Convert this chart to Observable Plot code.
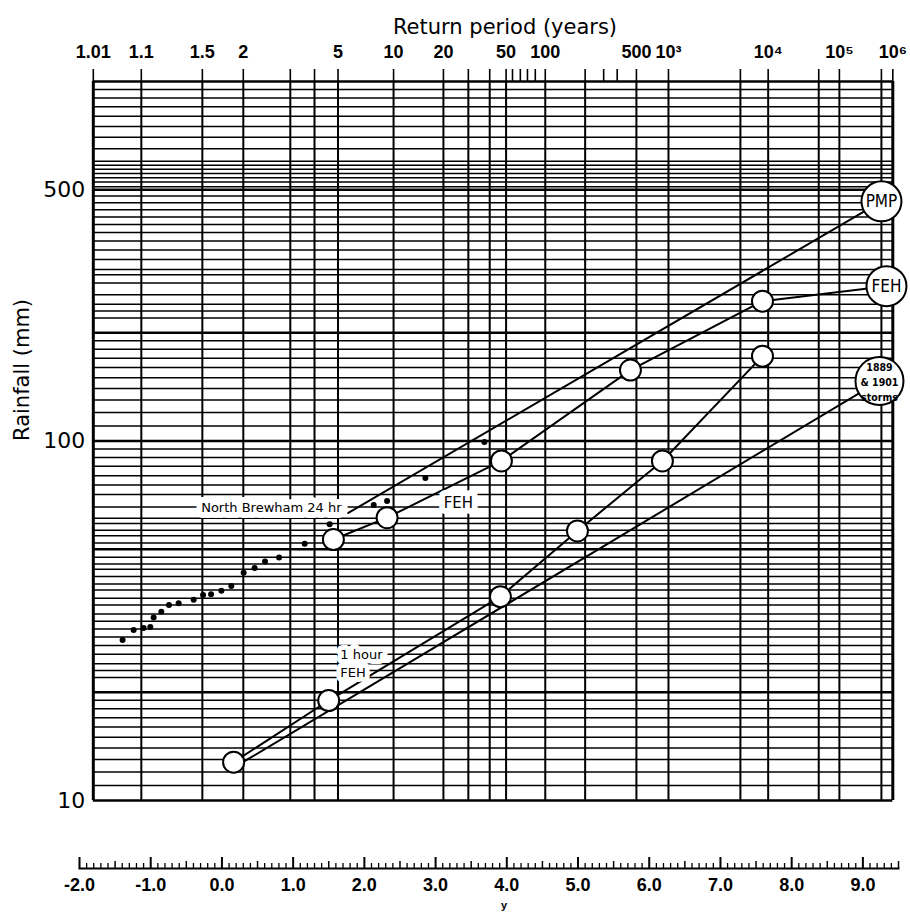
<!DOCTYPE html>
<html><head><meta charset="utf-8">
<script src="https://cdn.jsdelivr.net/npm/d3@7"></script>
<script src="https://cdn.jsdelivr.net/npm/@observablehq/plot@0.6"></script>
<style>
body{margin:0;background:#fff;}
</style>
</head><body><div id="chart"></div>
<script>
// ---- Top axis: return periods and where they sit on the reduced-variate scale
const returnPeriods      = [1.01, 1.1, 1.5, 2, 3, 4, 5, 10, 20, 30, 40, 50, 60, 70, 80, 90, 100, 200, 300, 400, 500, 1e3, 5e3, 1e4, 5e4, 1e5, 5e5, 1e6];
const returnPeriodPos    = [-1.806, -1.132, -0.275, 0.30, 0.96, 1.30, 1.63, 2.41, 3.11, 3.46, 3.76, 3.99, 4.08, 4.19, 4.29, 4.40, 4.54, 5.10, 5.36, 5.55, 5.82, 6.27, 7.28, 7.67, 8.38, 8.67, 9.26, 9.42];
const returnPeriodLabels = ["1.01","1.1","1.5","2","","","5","10","20","","","50","","","","","100","","","","500","10³","","10⁴","","10⁵","","10⁶"];
const shortTickPeriods   = [60, 70, 80, 90, 300, 400];

// ---- Rainfall (mm) graph-paper lines, log scale
const rainfallGrid = [10,11,12,13,14,15,16,17,18,19,20,22,23,24,25.5,27,28.5,30,31.5,33,35,36.5,38.5,40,42,44,45.5,47.5,50,52,54.5,56.5,59,61,65.5,71,75.5,80,85,90,95,
  100,110,120,130,140,150,160,170,180,190,200,220,230,240,255,275,290,300,320,340,360,380,400,420,440,460,480,500,510,525,540,555,570,585,600,650,700,750,800,850,900,950,1000];
const rainfallBold = [10, 20, 50, 100, 200, 500, 1000];
const rainfallTickLabels = [10, 100, 500];

// ---- Bottom ruler: reduced variate y
const rulerLabels = [-2, -1, 0, 1, 2, 3, 4, 5, 6, 7, 8, 9];

// ---- Series (x = reduced variate, rain = mm)
const fehX      = [1.565, 2.319, 3.924, 5.736, 7.590];
const fehRain   = [53.2, 61.2, 88.0, 157.5, 244.9];
const hourX     = [0.164, 1.499, 3.910, 4.992, 6.185, 7.590];
const hourRain  = [12.78, 18.97, 36.9, 56.2, 88.0, 172.2];
const brewX     = [-1.395,-1.240,-1.100,-1.006,-0.959,-0.851,-0.743,-0.608,-0.397,-0.265,-0.153,-0.008,0.132,0.305,0.459,0.605,0.802,1.162,1.513,2.131,2.319,2.857,3.685];
const brewRain  = [27.95,29.8,30.2,30.4,32.3,33.5,35.0,35.4,36.2,37.3,37.5,38.3,39.5,43.0,44.3,46.2,47.4,51.8,58.7,66.4,68.1,78.9,99.4];
const pmpX      = [1.775, 9.261];
const pmpRain   = [63.1, 464.2];
const stormX    = [0.30, 9.233];
const stormRain = [12.8, 146.8];

// ---- End-of-line bubble labels
const bubbleNames = ["PMP", "FEH", "1889\n& 1901\nstorms"];
const bubbleX     = [9.261, 9.331, 9.233];
const bubbleRain  = [464.2, 269.6, 146.8];

// ---- In-plot annotations
const noteText = ["North Brewham 24 hr", "FEH"];
const noteX    = [0.694, 3.320];
const noteRain = [65.2, 67.3];
const hourNote = {text: "1 hour\nFEH", x: 1.663, rain: 24.2};

// ---------- build
const pts = (xs, ys) => xs.map((x, i) => ({x, y: ys[i]}));
const feh = pts(fehX, fehRain);
const hour = pts(hourX, hourRain);
const brew = pts(brewX, brewRain);
const pmp = pts(pmpX, pmpRain);
const storm = pts(stormX, stormRain);
const fehLine = [...feh, {x: bubbleX[1], y: bubbleRain[1]}];
const bubbles = bubbleNames.map((t, i) => ({t, x: bubbleX[i], y: bubbleRain[i]}));
const notes = noteText.map((t, i) => ({t, x: noteX[i], y: noteRain[i]}));

const frameLeft = returnPeriodPos[0];
const frameRight = returnPeriodPos[returnPeriodPos.length - 1];
const rainMin = rainfallGrid[0], rainMax = rainfallGrid[rainfallGrid.length - 1];
const gridPos = returnPeriodPos.filter((p, i) => !shortTickPeriods.includes(returnPeriods[i]) && i > 0 && i < returnPeriodPos.length - 1);
const topLabelMap = new Map(returnPeriodPos.map((p, i) => [p, returnPeriodLabels[i]]));
const boldSet = new Set(rainfallBold);

const minorTicks = d3.range(-20, 96).map(i => i / 10).filter(v => Math.abs(v * 2 - Math.round(v * 2)) > 1e-6);
const halfTicks = d3.range(-4, 20).map(i => i / 2).filter(v => !Number.isInteger(v));
const frameH = 868 - 81;

const bold = "Liberation Sans, Arial, sans-serif";
const sans = "DejaVu Sans, Verdana, sans-serif";

const chart = Plot.plot({
  width: 910, height: 915,
  marginLeft: 79, marginRight: 12, marginTop: 81, marginBottom: 47,
  x: {domain: [-2, 9.5]},
  y: {type: "log", domain: [rainMin, rainMax], range: [800, 81], axis: null},
  style: {fontFamily: sans, background: "white", color: "black"},
  marks: [
    // graph paper
    Plot.ruleY(rainfallGrid, {y: d => d, x1: () => frameLeft, x2: () => frameRight, stroke: "black", strokeWidth: d => boldSet.has(d) ? 2.4 : 1.5}),
    Plot.ruleX(gridPos, {x: d => d, y1: () => rainMin, y2: () => rainMax, stroke: "black", strokeWidth: 2}),
    Plot.ruleX([frameLeft, frameRight], {x: d => d, y1: () => rainMin, y2: () => rainMax, stroke: "black", strokeWidth: 3}),
    // top axis (return period)
    Plot.axisX(returnPeriodPos, {anchor: "top", tickSize: 13, tickPadding: 11, strokeWidth: 1.6,
      tickFormat: d => topLabelMap.get(d) ?? "", fontSize: 18, fontWeight: "bold", fontFamily: bold, label: null}),
    Plot.text(["Return period (years)"], {frameAnchor: "top", dy: -62, dx: 16, fontSize: 21, fontFamily: sans}),
    // left labels
    Plot.text(rainfallTickLabels, {x: () => frameLeft, y: d => d, text: d => String(d), textAnchor: "end", dx: -8, fontSize: 22, fontFamily: sans}),
    Plot.text(["Rainfall (mm)"], {frameAnchor: "left", rotate: -90, dx: -57, dy: -34, fontSize: 21, fontFamily: sans}),
    // bottom ruler
    Plot.frame({anchor: "bottom", strokeWidth: 2}),
    Plot.tickX(minorTicks, {x: d => d, insetTop: frameH - 5, strokeWidth: 1.3}),
    Plot.tickX(halfTicks, {x: d => d, insetTop: frameH - 7, strokeWidth: 1.5}),
    Plot.tickX(rulerLabels, {x: d => d, insetTop: frameH - 11, strokeWidth: 2}),
    Plot.axisX(rulerLabels, {anchor: "bottom", tickSize: 0, tickPadding: 10, tickFormat: d => d.toFixed(1),
      fontSize: 18, fontWeight: "bold", fontFamily: bold, label: null}),
    Plot.text(["y"], {frameAnchor: "bottom", dy: 40, dx: 15, fontSize: 11, fontWeight: "bold", fontFamily: bold}),
    // series lines
    Plot.line(pmp, {x: "x", y: "y", stroke: "black", strokeWidth: 2}),
    Plot.line(storm, {x: "x", y: "y", stroke: "black", strokeWidth: 2}),
    Plot.line(fehLine, {x: "x", y: "y", stroke: "black", strokeWidth: 2}),
    Plot.line(hour, {x: "x", y: "y", stroke: "black", strokeWidth: 2}),
    // observed data
    Plot.dot(brew, {x: "x", y: "y", r: 3, fill: "black"}),
    // circles
    Plot.dot(feh, {x: "x", y: "y", r: 10.5, fill: "white", stroke: "black", strokeWidth: 2}),
    Plot.dot(hour, {x: "x", y: "y", r: 10.5, fill: "white", stroke: "black", strokeWidth: 2}),
    // annotations
    Plot.text(notes, {x: "x", y: "y", text: "t", fontSize: d => d.t === "FEH" ? 15 : 13, fill: "black", stroke: "white", strokeWidth: 12, fontFamily: sans}),
    Plot.text([hourNote], {x: "x", y: "rain", text: "text", textAnchor: "start", lineHeight: 1.35, fontSize: 13, fill: "black", stroke: "white", strokeWidth: 10, fontFamily: sans}),
    // bubbles
    Plot.dot(bubbles.slice(0, 2), {x: "x", y: "y", r: 20, fill: "white", stroke: "black", strokeWidth: 2}),
    Plot.dot(bubbles.slice(2), {x: "x", y: "y", r: 24, fill: "white", stroke: "black", strokeWidth: 2}),
    Plot.text(bubbles.slice(0, 2), {x: "x", y: "y", text: "t", fontSize: 17, fontFamily: "DejaVu Sans Condensed, DejaVu Sans, sans-serif"}),
    Plot.text(bubbles.slice(2), {x: "x", y: "y", text: "t", fontSize: 10.5, fontWeight: "bold", lineHeight: 1.45, fontFamily: "DejaVu Sans Condensed, Liberation Sans Narrow, sans-serif"})
  ]
});
document.getElementById("chart").appendChild(chart);
</script>
</body></html>
